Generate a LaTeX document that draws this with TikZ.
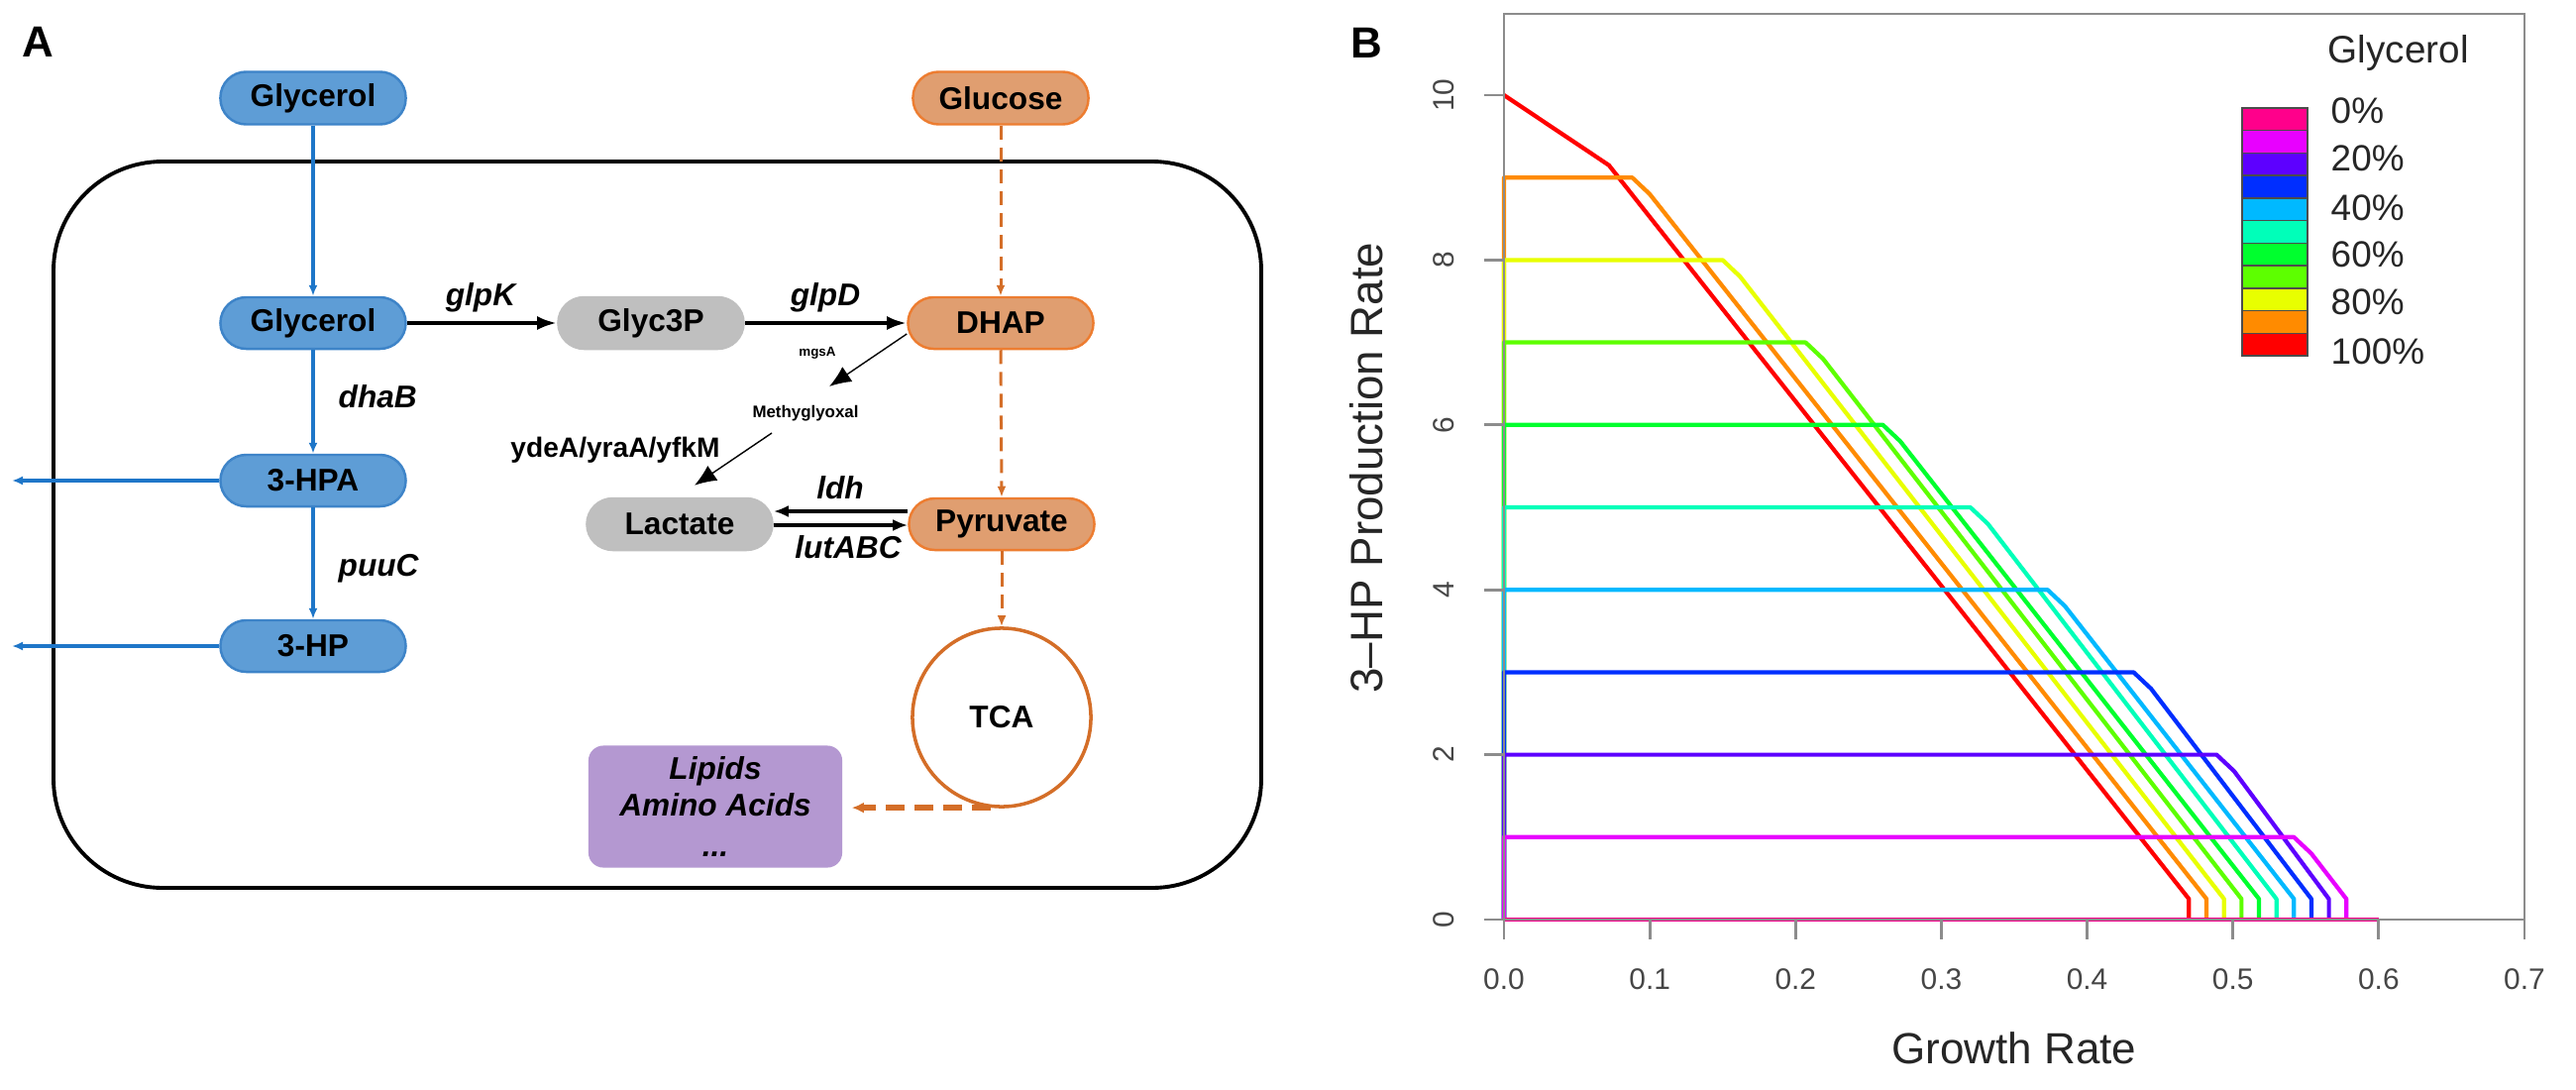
\documentclass[tikz,border=0pt]{standalone}
\usepackage{fontspec}
\usepackage{graphicx}
\setmainfont{Liberation Sans}
\usetikzlibrary{arrows.meta}
\definecolor{bluefill}{RGB}{94,157,214}
\definecolor{blueline}{RGB}{62,132,200}
\definecolor{bluearrow}{RGB}{30,118,200}
\definecolor{orfill}{RGB}{224,158,112}
\definecolor{orline}{RGB}{237,125,49}
\definecolor{orarrow}{RGB}{212,110,40}
\definecolor{grayfill}{RGB}{191,191,191}
\definecolor{purfill}{RGB}{180,152,209}
\definecolor{axisgray}{RGB}{140,140,140}
\definecolor{ticktext}{RGB}{70,70,70}
\definecolor{c0}{HTML}{FF008B}
\definecolor{c1}{HTML}{E800FF}
\definecolor{c2}{HTML}{5D00FF}
\definecolor{c3}{HTML}{002EFF}
\definecolor{c4}{HTML}{00B9FF}
\definecolor{c5}{HTML}{00FFB9}
\definecolor{c6}{HTML}{00FF2E}
\definecolor{c7}{HTML}{5DFF00}
\definecolor{c8}{HTML}{E8FF00}
\definecolor{c9}{HTML}{FF8B00}
\definecolor{c10}{HTML}{FF0000}
\tikzset{
  pill/.style={rounded corners=0.26cm, minimum width=1.87cm, minimum height=0.52cm, inner sep=0pt,
    font=\fontsize{9}{10}\selectfont\bfseries, line width=0.7pt},
  bluen/.style={pill, fill=bluefill, draw=blueline},
  orn/.style={pill, fill=orfill, draw=orline},
  grayn/.style={pill, fill=grayfill, draw=grayfill},
  enz/.style={font=\fontsize{9}{10}\selectfont\bfseries\itshape, inner sep=0pt},
  barrow/.style={-{Latex[length=1.1mm,width=0.9mm]}, draw=bluearrow, line width=1pt},
  karrow/.style={-{Latex[length=2mm,width=1.4mm]}, line width=1.4pt},
  larrow/.style={-{Latex[length=1.5mm,width=1.2mm]}, line width=1.1pt},
  tarrow/.style={-{Latex[length=2.2mm,width=1.8mm]}, line width=0.4pt},
  oarrow/.style={-{Latex[length=1.1mm,width=0.9mm]}, draw=orarrow, line width=0.85pt, dash pattern=on 0.14cm off 0.08cm},
  oarrowthick/.style={-{Latex[length=1.2mm,width=1.1mm]}, draw=orarrow, line width=1.6pt, dash pattern=on 0.19cm off 0.10cm},
  curve/.style={line width=1.2pt, line join=round},
  ticklab/.style={font=\fontsize{8.5}{10}\selectfont, text=ticktext, inner sep=0pt},
  leglab/.style={font=\fontsize{10.5}{12}\selectfont, text=black!85, inner sep=0pt, anchor=west},
}
\begin{document}
\begin{tikzpicture}[x=0.01cm,y=-0.01cm]
\useasboundingbox (0,0) rectangle (2600,1100);
\fill[white] (0,0) rectangle (2600,1100);

% panel labels
\node[font=\fontsize{12.5}{14}\selectfont\bfseries] (labA) at (38,42) {A};
\node[font=\fontsize{12.5}{14}\selectfont\bfseries] (labB) at (1379,43) {B};

% ===== Panel A =====
\draw[line width=1.1pt, rounded corners=1.1cm] (54,163) rectangle (1273,896);

\node[bluen, minimum height=0.53cm] (gtop) at (316,99) {Glycerol};
\node[orn, minimum width=1.77cm, minimum height=0.53cm] (gluc) at (1010,99) {Glucose};
\node[bluen] (gly) at (316,326) {Glycerol};
\node[grayn] (g3p) at (657,326) {Glyc3P};
\node[orn] (dhap) at (1010,326) {DHAP};
\node[bluen] (hpa) at (316,485) {3-HPA};
\node[bluen] (hp) at (316,652) {3-HP};
\node[grayn] (lac) at (686,529) {Lactate};
\node[orn] (pyr) at (1011,529) {Pyruvate};
\node[circle, draw=orarrow, line width=1pt, minimum size=1.8cm, inner sep=0pt,
      font=\fontsize{9}{10}\selectfont\bfseries] (tca) at (1011,724) {TCA};
\node[fill=purfill, rounded corners=0.15cm, minimum width=2.56cm, minimum height=1.23cm,
      align=center, inner sep=0pt, font=\fontsize{9}{10.6}\selectfont\bfseries\itshape] (lip) at (722,814)
      {Lipids\\Amino Acids\\[1pt]...};

\node[font=\fontsize{4.8}{5}\selectfont\bfseries, inner sep=0pt] (meth) at (813,417) {Methyglyoxal};
\node[font=\fontsize{3.8}{4}\selectfont\bfseries, inner sep=0pt] (mgsa) at (825,356) {mgsA};

% enzyme labels
\node[enz] (glpk) at (485,300) {glpK};
\node[enz] (glpd) at (833,300) {glpD};
\node[enz, anchor=west] (dhab) at (341,400) {dhaB};
\node[enz, anchor=west] (puuc) at (341,574) {puuC};
\node[enz] (ldh) at (848,492) {ldh};
\node[enz] (lutabc) at (856,552) {lutABC};
\node[font=\fontsize{8}{9}\selectfont\bfseries, inner sep=0pt] (ydea) at (621,454) {ydeA/yraA/yfkM};

% blue arrows
\coordinate (out1) at (12,485);
\coordinate (out2) at (12,652);
\draw[barrow] (gtop) -- (gly);
\draw[barrow] (gly) -- (hpa);
\draw[barrow] (hpa) -- (hp);
\draw[barrow] (hpa.west) -- (out1);
\draw[barrow] (hp.west) -- (out2);

% black arrows
\draw[karrow] (gly.east) -- (g3p.west);
\draw[karrow] (g3p.east) -- (dhap.west);
\draw[larrow] ([yshift=0.13cm]pyr.west) -- ([yshift=0.13cm]lac.east);
\draw[larrow] ([yshift=-0.01cm]lac.east) -- ([yshift=-0.01cm]pyr.west);
\draw[tarrow] ([yshift=-0.11cm]dhap.west) -- ([xshift=0.24cm,yshift=0.27cm]meth.center);
\draw[tarrow] ([xshift=-0.34cm,yshift=-0.20cm]meth.center) -- ([xshift=0.15cm,yshift=0.12cm]lac.north);

% orange dashed arrows
\draw[oarrow] (gluc.south) -- (dhap.north);
\draw[oarrow] (dhap.south) -- (pyr.north);
\draw[oarrow] (pyr.south) -- (tca.north);
\draw[oarrowthick] (tca.263) -- ([xshift=0.09cm]lip.east |- tca.263);

% ===== Panel B =====
% curves
\begin{scope}[shift={(1518,928)}, xscale=1471, yscale=-83.2]
  \draw[curve, c10] (0,10) -- (0.072,9.15) -- (0.470,0.25) -- (0.470,0);
  \foreach \k/\xb in {9/0.088,8/0.150,7/0.207,6/0.260,5/0.320,4/0.373,3/0.432,2/0.489,1/0.542}{
    \pgfmathsetmacro\xe{0.59-0.012*\k}
    \draw[curve, c\k] (0,0) -- (0,\k) -- (\xb,\k) -- ({\xb+0.012},{\k-0.2}) -- (\xe,0.25) -- (\xe,0);
  }
  \draw[curve, c0] (0,0) -- (0.6,0);
\end{scope}

% axes box and ticks
\draw[axisgray, line width=0.8pt] (1518,928) rectangle (2548,14);
\foreach \i in {0,...,7}{
  \pgfmathsetmacro\xx{1518+147.14*\i}
  \draw[axisgray, line width=0.8pt] (\xx,928) -- (\xx,948);
  \node[ticklab] (xt\i) at (\xx,988) {0.\i};
}
\foreach \j/\lab in {0/0,1/2,2/4,3/6,4/8,5/10}{
  \pgfmathsetmacro\yy{928-166.4*\j}
  \draw[axisgray, line width=0.8pt] (1498,\yy) -- (1518,\yy);
  \node[ticklab, rotate=90] (yt\j) at (1457,\yy) {\lab};
}
\node[font=\fontsize{12.5}{14}\selectfont, text=black!85, inner sep=0pt] (xlab) at (2033,1058) {Growth Rate};
\node[font=\fontsize{13}{15}\selectfont, text=black!85, inner sep=0pt, rotate=90] (ylab) at (1379,472)
  {3–HP Production Rate};

% legend
\node[font=\fontsize{11}{13}\selectfont, text=black!85, inner sep=0pt, anchor=west] (legt) at (2349,53) {Glycerol};
\foreach \i in {0,...,10}{
  \fill[c\i] (2263,{109+22.73*\i}) rectangle (2329,{109+22.73*(\i+1)});
  \draw[black!70, line width=0.4pt] (2263,{109+22.73*\i}) rectangle (2329,{109+22.73*(\i+1)});
}
\node[leglab] (l0) at (2352,112) {0\%};
\node[leglab] (l20) at (2352,160) {20\%};
\node[leglab] (l40) at (2352,210) {40\%};
\node[leglab] (l60) at (2352,257) {60\%};
\node[leglab] (l80) at (2352,305) {80\%};
\node[leglab] (l100) at (2352,355) {100\%};
\end{tikzpicture}
\end{document}
